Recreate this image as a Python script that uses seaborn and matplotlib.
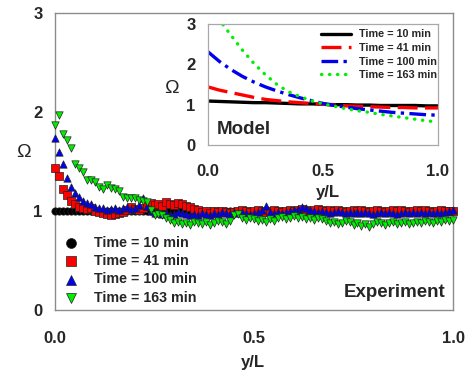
import numpy as np
import pandas as pd
import matplotlib
matplotlib.use("Agg")
import matplotlib.pyplot as plt
import seaborn as sns

# ---------------- data ----------------
y_over_L = [0.00, 0.01, 0.02, 0.03, 0.04, 0.05, 0.06, 0.07, 0.08, 0.09,
            0.10, 0.11, 0.12, 0.13, 0.14, 0.15, 0.16, 0.17, 0.18, 0.19,
            0.20, 0.21, 0.22, 0.23, 0.24, 0.25, 0.26, 0.27, 0.28, 0.29,
            0.30, 0.31, 0.32, 0.33, 0.34, 0.35, 0.36, 0.37, 0.38, 0.39,
            0.40, 0.41, 0.42, 0.43, 0.44, 0.45, 0.46, 0.47, 0.48, 0.49,
            0.50, 0.51, 0.52, 0.53, 0.54, 0.55, 0.56, 0.57, 0.58, 0.59,
            0.60, 0.61, 0.62, 0.63, 0.64, 0.65, 0.66, 0.67, 0.68, 0.69,
            0.70, 0.71, 0.72, 0.73, 0.74, 0.75, 0.76, 0.77, 0.78, 0.79,
            0.80, 0.81, 0.82, 0.83, 0.84, 0.85, 0.86, 0.87, 0.88, 0.89,
            0.90, 0.91, 0.92, 0.93, 0.94, 0.95, 0.96, 0.97, 0.98, 0.99,
            1.00]

exp_t10 = [1.00, 1.00, 1.00, 1.00, 1.00, 1.00, 1.00, 1.00, 1.00, 1.00,
           1.00, 1.00, 1.00, 1.00, 1.00, 1.00, 1.00, 1.00, 1.00, 1.00,
           1.00, 1.00, 1.00, 1.00, 1.00, 1.00, 1.00, 1.00, 1.00, 1.00,
           1.00, 1.00, 1.00, 1.00, 1.00, 1.00, 1.00, 1.00, 1.00, 1.00,
           1.00, 1.00, 1.00, 1.00, 1.00, 1.00, 1.00, 1.00, 1.00, 1.00,
           1.00, 1.00, 1.00, 1.00, 1.00, 1.00, 1.00, 1.00, 1.00, 1.00,
           1.00, 1.00, 1.00, 1.00, 1.00, 1.00, 1.00, 1.00, 1.00, 1.00,
           1.00, 1.00, 1.00, 1.00, 1.00, 1.00, 1.00, 1.00, 1.00, 1.00,
           1.00, 1.00, 1.00, 1.00, 1.00, 1.00, 1.00, 1.00, 1.00, 1.00,
           1.00, 1.00, 1.00, 1.00, 1.00, 1.00, 1.00, 1.00, 1.00, 1.00,
           1.00]

exp_t41 = [1.43, 1.35, 1.22, 1.16, 1.10, 1.07, 1.04, 1.03, 1.02, 1.03,
           1.00, 0.99, 0.98, 0.97, 0.96, 0.97, 0.98, 0.99, 1.01, 1.04,
           1.02, 1.01, 1.03, 1.05, 1.08, 1.06, 1.07, 1.05, 1.09, 1.07,
           1.06, 1.08, 1.07, 1.05, 1.04, 1.02, 1.01, 0.99, 1.00, 0.98,
           1.00, 0.99, 1.00, 0.99, 0.98, 0.99, 1.00, 1.01, 1.00, 0.99,
           1.00, 1.01, 1.00, 0.99, 1.00, 1.01, 1.00, 0.99, 1.00, 1.01,
           1.00, 1.01, 1.02, 1.01, 1.00, 1.01, 1.02, 1.01, 1.00, 1.01,
           1.00, 1.01, 1.00, 0.99, 1.00, 1.01, 1.00, 1.01, 1.00, 0.99,
           1.00, 1.01, 1.00, 0.99, 1.00, 1.01, 1.00, 1.01, 1.00, 0.99,
           1.00, 1.01, 1.00, 1.01, 1.00, 0.99, 1.00, 1.01, 1.00, 1.00,
           1.00]

exp_t100 = [1.74, 1.60, 1.47, 1.33, 1.24, 1.18, 1.14, 1.10, 1.08, 1.07,
            1.04, 1.03, 1.03, 1.01, 1.02, 1.03, 1.01, 1.03, 1.04, 1.02,
            1.03, 1.06, 1.13, 1.05, 1.00, 0.98, 0.99, 0.97, 0.98, 0.96,
            0.97, 0.99, 0.98, 0.97, 0.96, 0.97, 0.96, 0.98, 0.97, 0.96,
            0.98, 0.97, 0.99, 0.98, 0.97, 0.99, 0.98, 0.99, 0.98, 0.97,
            0.98, 0.99, 1.01, 1.05, 0.99, 0.98, 0.99, 0.98, 0.99, 1.00,
            1.01, 1.02, 1.04, 1.03, 1.01, 1.00, 0.99, 1.00, 0.99, 0.98,
            0.99, 1.00, 0.99, 0.98, 0.99, 0.98, 0.99, 0.98, 0.99, 0.98,
            0.97, 0.98, 0.99, 0.98, 0.99, 0.98, 0.97, 0.98, 0.99, 0.98,
            0.99, 0.98, 0.99, 0.98, 0.99, 0.98, 0.99, 0.98, 0.99, 1.00,
            1.01]

exp_t163 = [1.87, 1.97, 1.78, 1.72, 1.64, 1.47, 1.43, 1.39, 1.31, 1.31,
            1.29, 1.24, 1.22, 1.26, 1.23, 1.22, 1.20, 1.14, 1.13, 1.13,
            1.13, 1.11, 1.10, 1.09, 1.01, 0.96, 0.97, 0.96, 0.93, 0.91,
            0.88, 0.89, 0.87, 0.88, 0.86, 0.89, 0.88, 0.87, 0.89, 0.86,
            0.88, 0.90, 0.89, 0.87, 0.90, 0.96, 0.97, 0.93, 0.91, 0.93,
            0.92, 0.90, 0.91, 0.89, 0.92, 0.90, 0.93, 0.94, 0.92, 0.93,
            0.95, 0.93, 0.94, 0.92, 0.93, 0.91, 0.93, 0.92, 0.90, 0.88,
            0.89, 0.87, 0.88, 0.90, 0.89, 0.86, 0.88, 0.85, 0.87, 0.84,
            0.87, 0.89, 0.88, 0.86, 0.88, 0.89, 0.87, 0.88, 0.89, 0.87,
            0.88, 0.89, 0.88, 0.90, 0.89, 0.88, 0.90, 0.89, 0.91, 0.90,
            0.91]

model_x = [0.00, 0.05, 0.10, 0.15, 0.20, 0.25, 0.30, 0.35, 0.40, 0.45,
           0.50, 0.55, 0.60, 0.65, 0.70, 0.75, 0.80, 0.85, 0.90, 0.95, 1.00]
model_t10 = [1.09, 1.08, 1.07, 1.06, 1.05, 1.05, 1.04, 1.03, 1.02, 1.02,
             1.01, 1.00, 1.00, 0.99, 0.99, 0.98, 0.98, 0.98, 0.98, 0.97, 0.97]
model_t41 = [1.44, 1.36, 1.30, 1.24, 1.18, 1.13, 1.10, 1.07, 1.05, 1.03,
             1.01, 0.99, 0.97, 0.96, 0.95, 0.94, 0.93, 0.93, 0.92, 0.92, 0.92]
model_t100 = [2.31, 2.07, 1.87, 1.70, 1.56, 1.44, 1.34, 1.25, 1.17, 1.10,
              1.03, 0.98, 0.94, 0.90, 0.87, 0.84, 0.81, 0.79, 0.77, 0.75, 0.74]
model_t163 = [3.45, 3.10, 2.72, 2.35, 2.02, 1.74, 1.50, 1.32, 1.20, 1.10,
              1.02, 0.96, 0.90, 0.85, 0.81, 0.76, 0.72, 0.68, 0.64, 0.60, 0.57]

labels = ["Time = 10 min", "Time = 41 min", "Time = 100 min", "Time = 163 min"]
colors = ["#000000", "#ff0000", "#0000ee", "#00ee00"]
markers = ["o", "s", "^", "v"]

# ---------------- style ----------------
sns.set_style("white")
plt.rcParams["font.family"] = ["Liberation Sans", "DejaVu Sans"]

fig = plt.figure(figsize=(4.71, 3.75), dpi=100)
ax = fig.add_axes([0.1168, 0.1733, 0.8450, 0.7920])

exp_series = [exp_t10, exp_t41, exp_t100, exp_t163]
for ys, lab, col, mk in zip(exp_series, labels, colors, markers):
    sns.scatterplot(x=y_over_L, y=ys, ax=ax, marker=mk, color=col,
                    edgecolor="#222222", linewidth=0.5, s=28, label=lab,
                    zorder=3, clip_on=False)

ax.set_xlim(0, 1)
ax.set_ylim(0, 3)
ax.set_xticks([0.0, 0.5, 1.0])
ax.set_xticklabels(["0.0", "0.5", "1.0"])
ax.set_yticks([0, 1, 2, 3])
ax.set_yticklabels(["0", "1", "2", "3"])
for sp in ax.spines.values():
    sp.set_color("#8c8c8c")
    sp.set_linewidth(1.0)
ax.tick_params(axis="x", direction="out", length=4, width=1, color="#8c8c8c",
               pad=11, labelsize=12)
ax.tick_params(axis="y", direction="out", length=3, width=1, color="#8c8c8c",
               pad=6, labelsize=12)
for t in ax.get_xticklabels() + ax.get_yticklabels():
    t.set_fontweight("bold")

ax.set_xlabel("y/L", fontsize=12, fontweight="bold")
ax.xaxis.set_label_coords(0.497, -0.152)
ax.set_ylabel("Ω", fontsize=14, rotation=0, va="center", ha="center")
ax.yaxis.set_label_coords(-0.08, 0.53)

ax.text(0.98, 0.06, "Experiment", transform=ax.transAxes, ha="right",
        va="center", fontsize=13.5, fontweight="bold")

leg = ax.legend(loc="upper left", bbox_to_anchor=(0.018, 0.25),
                frameon=False, fontsize=10.3, handlelength=1.2,
                handletextpad=1.0, labelspacing=0.3, borderpad=0,
                borderaxespad=0, markerscale=1.35)
for t in leg.get_texts():
    t.set_fontweight("bold")

# ---------------- inset ----------------
ax2 = fig.add_axes([0.4416, 0.6133, 0.4883, 0.3227])
ax2.set_facecolor("white")
model_series = [model_t10, model_t41, model_t100, model_t163]
styles = ["-", (0, (6, 2.2)), (0, (5, 1.6, 1, 1.6)), (0, (0.1, 2.3))]
for ys, lab, col, ls in zip(model_series, labels, colors, styles):
    sns.lineplot(x=model_x, y=ys, ax=ax2, color=col, linewidth=2.4,
                 linestyle=ls, label=lab, dash_capstyle="round"
                 if ls == styles[3] else "butt")

ax2.set_xlim(0, 1)
ax2.set_ylim(0, 3)
ax2.set_xticks([0.0, 0.5, 1.0])
ax2.set_xticklabels(["0.0", "0.5", "1.0"])
ax2.set_yticks([0, 1, 2, 3])
ax2.set_yticklabels(["0", "1", "2", "3"])
for sp in ax2.spines.values():
    sp.set_color("#a8a8a8")
    sp.set_linewidth(0.9)
ax2.tick_params(axis="x", direction="out", length=2, width=0.9,
                color="#a8a8a8", pad=12, labelsize=12)
ax2.tick_params(axis="y", direction="out", length=2, width=0.9,
                color="#a8a8a8", pad=7, labelsize=12)
for t in ax2.get_xticklabels() + ax2.get_yticklabels():
    t.set_fontweight("bold")
ax2.set_xlabel("y/L", fontsize=12, fontweight="bold")
ax2.xaxis.set_label_coords(0.52, -0.33)
ax2.set_ylabel("Ω", fontsize=14, rotation=0, va="center", ha="center")
ax2.yaxis.set_label_coords(-0.157, 0.47)
ax2.text(0.04, 0.13, "Model", transform=ax2.transAxes, ha="left",
         va="center", fontsize=13.5, fontweight="bold")

leg2 = ax2.legend(loc="upper right", bbox_to_anchor=(0.995, 0.955),
                  frameon=False, fontsize=7.8, handlelength=2.8,
                  handletextpad=0.7, labelspacing=0.33, borderpad=0,
                  borderaxespad=0)
for t in leg2.get_texts():
    t.set_fontweight("bold")

fig.savefig("out.png", dpi=100, facecolor="white")
